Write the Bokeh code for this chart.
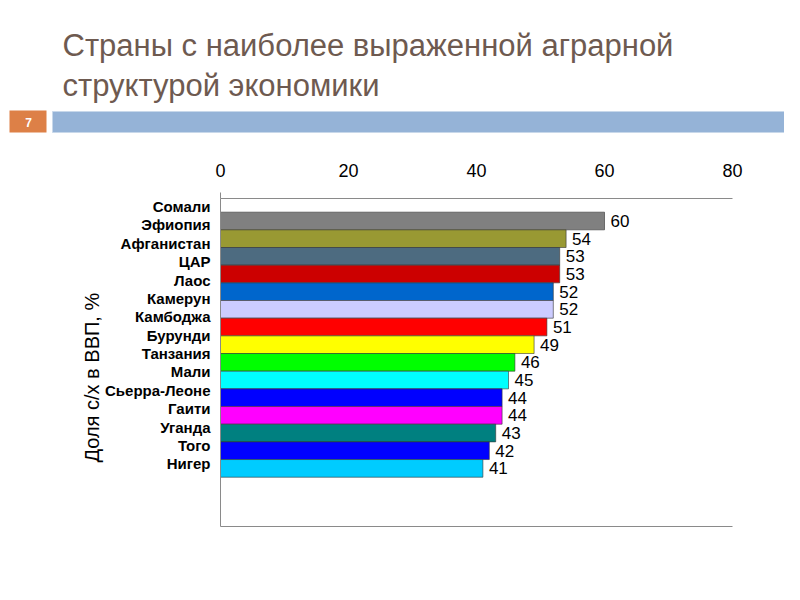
import numpy as np
from bokeh.plotting import figure
from bokeh.models import Range1d, LinearAxis, FixedTicker, ColumnDataSource, Title
from bokeh.core.properties import value
from bokeh.embed import file_html
from bokeh.resources import INLINE

# ---------------- data ----------------
title_lines = ["Страны с наиболее выраженной аграрной", "структурой экономики"]
slide_number = "7"
countries = ["Сомали", "Эфиопия", "Афганистан", "ЦАР", "Лаос", "Камерун", "Камбоджа",
             "Бурунди", "Танзания", "Мали", "Сьерра-Леоне", "Гаити", "Уганда", "Того", "Нигер"]
shares = [60, 54, 53, 53, 52, 52, 51, 49, 46, 45, 44, 44, 43, 42, 41]
bar_colors = ["#808080", "#999933", "#4d6b80", "#cc0000", "#0066cc", "#ccccff", "#ff0000",
              "#ffff00", "#00ff00", "#00ffff", "#0000ff", "#ff00ff", "#008080", "#0000ff", "#00ccff"]
x_ticks = [0, 20, 40, 60, 80]
y_title = "Доля с/х в ВВП, %"

FONT = "Liberation Sans"
W = 784
HH = 140          # header height
HC = 444          # chart height

# ---------------- header ----------------
hdr = figure(width=W, height=HH, x_range=Range1d(0, W), y_range=Range1d(HH, 0),
             output_backend="svg", toolbar_location=None, min_border=0)
hdr.axis.visible = False
hdr.grid.visible = False
hdr.outline_line_color = None
hdr.quad(left=[9], right=[46], top=[110], bottom=[132], fill_color="#dd8047", line_color=None)
hdr.quad(left=[52], right=[W + 10], top=[111], bottom=[132], fill_color="#95b3d7",
         line_color="#c8d8ea", line_width=1)
hdr.text(x=[28], y=[121.5], text=[slide_number], text_color="white",
         text_font=value(FONT), text_font_size="12px", text_font_style="bold",
         text_align="center", text_baseline="middle")
hdr.text(x=[62, 62], y=[45, 85], text=title_lines, text_color="#6e5a50",
         text_font=value(FONT), text_font_size="31px",
         text_align="left", text_baseline="middle")

# ---------------- chart ----------------
FL, FR, FT, FB = 220, 732, 198, 526   # frame in page pixels
n = len(countries)
step = 17.67
y_top = (FT - 220.5) / step
y_bot = y_top + (FB - FT) / step
pos = np.arange(n)
label_pos = [(206 + 18.38 * i - 220.5) / step for i in range(n)]

p = figure(width=W, height=HC, x_range=Range1d(0, 80), y_range=Range1d(y_bot, y_top),
           x_axis_location="above", output_backend="svg", toolbar_location=None,
           min_border_left=FL, min_border_right=W - FR,
           min_border_top=FT - HH, min_border_bottom=HH + HC - FB)
p.grid.visible = False
p.outline_line_color = None

src = ColumnDataSource(dict(y=pos, share=shares, color=bar_colors,
                            lbl=[str(v) for v in shares], country=countries))
p.hbar(y="y", right="share", left=0, height=1.0, fill_color="color", source=src,
       line_color="#333333", line_alpha=0.6, line_width=1)
p.text(x="share", y="y", text="lbl", source=src, x_offset=6,
       text_font=value(FONT), text_font_size="17px", text_color="black",
       text_baseline="middle", text_align="left")

gray = "#8a8a8a"
xa = p.xaxis[0]
xa.ticker = FixedTicker(ticks=x_ticks, minor_ticks=[0])
xa.major_tick_line_color = None
xa.minor_tick_line_color = gray
xa.minor_tick_in = 0
xa.minor_tick_out = 6
xa.axis_line_color = gray
xa.major_label_text_font = FONT
xa.major_label_text_font_size = "18px"
xa.major_label_text_color = "black"
xa.major_label_standoff = 16

ya = p.yaxis[0]
ya.ticker = FixedTicker(ticks=label_pos)
ya.major_label_overrides = {lp: c for lp, c in zip(label_pos, countries)}
ya.major_tick_line_color = None
ya.minor_tick_line_color = None
ya.axis_line_color = gray
ya.major_label_text_font = FONT
ya.major_label_text_font_size = "15px"
ya.major_label_text_font_style = "bold"
ya.major_label_text_color = "black"
ya.major_label_standoff = 4

p.add_layout(Title(text=y_title, align="left", offset=64, standoff=0,
                   text_font=FONT, text_font_size="20px", text_font_style="normal",
                   text_color="black"), "left")

bottom = LinearAxis(ticker=FixedTicker(ticks=[]), axis_line_color=gray,
                    major_tick_line_color=None, minor_tick_line_color=None,
                    major_label_text_font_size="0px")
p.add_layout(bottom, "below")

open("out.html", "w").write(file_html([hdr, p], INLINE))
